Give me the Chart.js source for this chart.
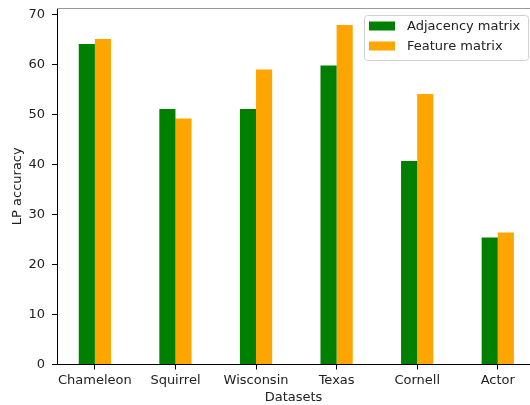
<!DOCTYPE html>
<html>
<head>
<meta charset="utf-8">
<script src="https://cdn.jsdelivr.net/npm/chart.js@4"></script>
<style>
  html, body { margin: 0; padding: 0; background: #fff; overflow: hidden; }
  #wrap { width: 530px; height: 405px; }
</style>
</head>
<body>
<div id="wrap"><canvas id="lp-chart" width="530" height="405"></canvas></div>
<script>
// datasets and LP accuracy values
const datasetNames = ['Chameleon', 'Squirrel', 'Wisconsin', 'Texas', 'Cornell', 'Actor'];
const adjacencyAcc = [64.1, 51.1, 51.1, 59.8, 40.7, 25.4];
const featureAcc = [65.1, 49.2, 59.0, 67.9, 54.1, 26.4];
const yTicks = [0, 10, 20, 30, 40, 50, 60, 70];

const fontFamily = '"DejaVu Sans", sans-serif';
const textColor = '#222';

// matplotlib-ish frame: gray top spine + legend box in upper right
const framePlugin = {
    id: 'frame',
    afterDraw(chart) {
        const ctx = chart.ctx;
        const area = chart.chartArea;
        ctx.save();
        ctx.strokeStyle = '#999';
        ctx.lineWidth = 1;
        ctx.beginPath();
        ctx.moveTo(area.left, area.top + 0.5);
        ctx.lineTo(area.right, area.top + 0.5);
        ctx.stroke();

        // legend
        const lx = 364.5, ly = 15.5, lw = 164, lh = 45;
        ctx.fillStyle = 'rgba(255,255,255,0.8)';
        ctx.strokeStyle = '#d0d0d0';
        ctx.beginPath();
        ctx.roundRect(lx, ly, lw, lh, 3);
        ctx.fill();
        ctx.stroke();

        ctx.font = '13px ' + fontFamily;
        ctx.textBaseline = 'middle';
        ctx.textAlign = 'left';
        chart.data.datasets.forEach((ds, i) => {
            const rowY = 26 + i * 20;
            ctx.fillStyle = ds.backgroundColor;
            ctx.fillRect(369, rowY - 4.5, 26, 9);
            ctx.fillStyle = textColor;
            ctx.fillText(ds.label, 407, rowY + 1);
        });
        ctx.restore();
    }
};

const ctx = document.getElementById('lp-chart').getContext('2d');
new Chart(ctx, {
    type: 'bar',
    data: {
        labels: datasetNames.map((n, i) => i),
        datasets: [
            {
                label: 'Adjacency matrix',
                data: adjacencyAcc,
                backgroundColor: '#008000',
                borderWidth: 0,
                categoryPercentage: 0.4,
                barPercentage: 1.0
            },
            {
                label: 'Feature matrix',
                data: featureAcc,
                backgroundColor: '#FFA500',
                borderWidth: 0,
                categoryPercentage: 0.4,
                barPercentage: 1.0
            }
        ]
    },
    options: {
        responsive: false,
        animation: false,
        layout: { padding: { left: 0, right: 0, top: 8, bottom: 0 } },
        plugins: {
            legend: { display: false },
            tooltip: { enabled: false }
        },
        scales: {
            x: {
                type: 'linear',
                min: -0.47,
                max: 5.4,
                offset: false,
                afterBuildTicks: (scale) => {
                    scale.ticks = datasetNames.map((n, i) => ({ value: i }));
                },
                afterFit: (scale) => {
                    scale.height = 40.5;
                    scale.paddingLeft = 0;
                    scale.paddingRight = 0;
                },
                grid: { display: true, offset: false, drawOnChartArea: false, drawTicks: true, tickLength: 5, color: '#000' },
                border: { display: true, color: '#000', width: 1 },
                ticks: {
                    padding: 3,
                    autoSkip: false,
                    maxRotation: 0,
                    color: textColor,
                    font: { family: fontFamily, size: 13 },
                    callback: (v) => datasetNames[v]
                },
                title: {
                    display: true,
                    text: 'Datasets',
                    color: textColor,
                    font: { family: fontFamily, size: 13, lineHeight: 1.2 },
                    padding: { top: 0, bottom: 0 }
                }
            },
            y: {
                min: 0,
                max: 71.3,
                afterBuildTicks: (scale) => {
                    scale.ticks = yTicks.map(v => ({ value: v }));
                },
                afterFit: (scale) => {
                    scale.width = 57;
                    scale.paddingTop = 0;
                    scale.paddingBottom = 0;
                },
                grid: { display: true, drawOnChartArea: false, drawTicks: true, tickLength: 5, color: '#000' },
                border: { display: true, color: '#000', width: 1 },
                ticks: {
                    padding: 7,
                    color: textColor,
                    font: { family: fontFamily, size: 13 }
                },
                title: {
                    display: true,
                    text: 'LP accuracy',
                    color: textColor,
                    font: { family: fontFamily, size: 13, lineHeight: 1.2 },
                    padding: { top: 10, bottom: 0 }
                }
            }
        }
    },
    plugins: [framePlugin]
});
</script>
</body>
</html>
